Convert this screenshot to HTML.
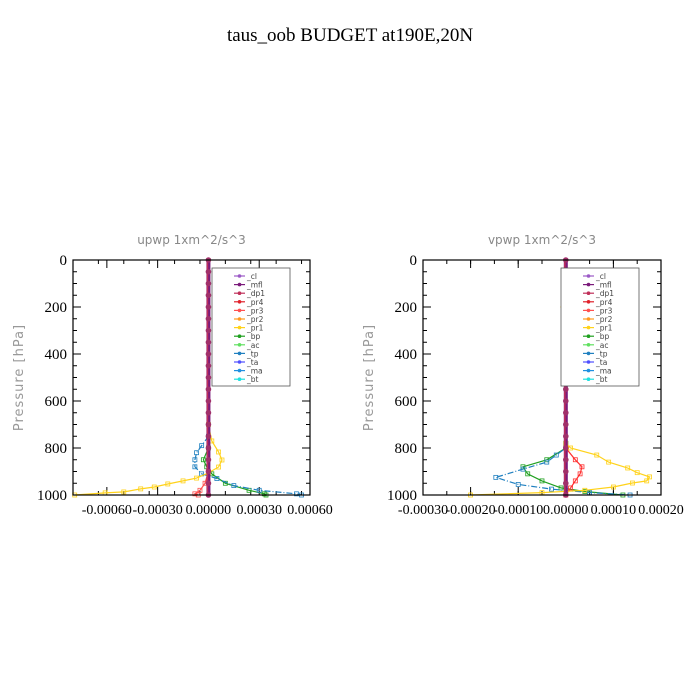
<!DOCTYPE html>
<html><head><meta charset="utf-8"><style>
body{margin:0;background:#fff;}
svg{display:block;}
</style></head><body>
<svg id="chart" width="700" height="700" xmlns="http://www.w3.org/2000/svg">
<text x="350" y="41" text-anchor="middle" font-family="Liberation Serif, serif" font-size="19" fill="#000">taus_oob  BUDGET at190E,20N</text>
</svg>
<script>
// ---- data ----
const pressureTicks = [0,200,400,600,800,1000];
const xTicks1 = [-0.0006,-0.0003,0,0.0003,0.0006];
const xTickLabels1 = ["-0.00060","-0.00030","0.00000","0.00030","0.00060"];
const xTicks2 = [-0.0003,-0.0002,-0.0001,0,0.0001,0.0002];
const xTickLabels2 = ["-0.00030","-0.00020","-0.00010","0.00000","0.00010","0.00020"];
const legendNames = ["_cl","_mfl","_dp1","_pr4","_pr3","_pr2","_pr1","_bp","_ac","_tp","_ta","_ma","_bt"];
const legendColors = ["#9b59c6","#7b1a7b","#c0305a","#e0202a","#ff5050","#ff9a20","#ffd21a","#20a020","#60e060","#2080c0","#5050ff","#2090e0","#20e0e0"];
const centerP = [0,50,100,150,200,250,300,350,400,450,500,550,600,650,700,750,800,850,900,950,1000];
// panel 1 (upwp)
const p1_pr1_p = [0,700,770,817,851,881,906,928,940,953,966,974,987,991,1000];
const p1_pr1_v = [0,0,0.00002,0.00006,0.00008,0.00006,0,-0.00007,-0.00015,-0.00024,-0.00032,-0.0004,-0.0005,-0.00061,-0.00079];
const p1_tp_p = [0,700,750,790,820,850,880,910,930,960,980,995,1000];
const p1_tp_v = [0,0,0,-0.00004,-0.00007,-0.00008,-0.00008,-0.00004,0.00005,0.00015,0.0003,0.00052,0.00055];
const p1_bp_p = [0,800,850,880,910,950,980,995,1000];
const p1_bp_v = [0,0,-0.00003,-0.00001,0.00002,0.0001,0.00024,0.00033,0.00034];
const p1_pr3_p = [0,900,950,980,995,1000];
const p1_pr3_v = [0,0,-0.00002,-0.00005,-0.00008,-0.00006];
// panel 2 (vpwp)
const p2_pr1_p = [0,180,200,220,780,800,830,860,885,905,923,940,949,966,980,990,1000];
const p2_pr1_v = [0,0,-0.00001,0,0,0.00001,0.000065,0.00009,0.00013,0.00015,0.000176,0.00017,0.00014,0.0001,0.00004,-0.00005,-0.0002];
const p2_tp_p = [0,170,200,230,780,800,830,860,890,925,955,975,990,1000];
const p2_tp_v = [0,0.00001,0.00002,0,0,0,-0.00002,-0.00004,-0.00009,-0.000147,-0.0001,-0.00003,0.00005,0.000135];
const p2_bp_p = [0,780,800,850,880,910,940,970,985,1000];
const p2_bp_v = [0,0,0,-0.00004,-0.00009,-0.00008,-0.00005,-0.00001,0.00004,0.00012];
const p2_pr3_p = [0,800,850,880,910,940,970,1000];
const p2_pr3_v = [0,0,0.00002,0.000034,0.00003,0.00002,0.00001,0];

const svg = document.getElementById('chart');
const NS = 'http://www.w3.org/2000/svg';
function mk(tag, attrs, parent){const e=document.createElementNS(NS,tag);for(const k in attrs)e.setAttribute(k,attrs[k]);(parent||svg).appendChild(e);return e;}

function panel(opt){
  const g = mk('g',{});
  
  
  const L=opt.left,R=opt.right,T=260,B=495;
  const xs=v=>L+(v-opt.xmin)/(opt.xmax-opt.xmin)*(R-L);
  const ys=p=>T+p/1000*(B-T);
  const t = mk('text',{x:(L+R)/2,y:244,'text-anchor':'middle','font-family':'DejaVu Sans, sans-serif','font-size':12,fill:'#888','xml:space':'preserve'},g);
  t.textContent = opt.title;
  
  
  const yl = mk('text',{x:0,y:0,transform:`translate(${L-50},${(T+B)/2}) rotate(-90)`,'text-anchor':'middle','font-family':'DejaVu Sans, sans-serif','font-size':13,fill:'#999','letter-spacing':'1'},g);
  yl.textContent='Pressure [hPa]';
  
  
  // minor ticks
  for(let p=0;p<=1000;p+=50){const y=ys(p);const len=(p%200===0)?8:4;
    mk('line',{x1:L,x2:L+len,y1:y,y2:y,stroke:'#000','stroke-width':1},g);
    mk('line',{x1:R,x2:R-len,y1:y,y2:y,stroke:'#000','stroke-width':1},g);}
  pressureTicks.forEach(p=>{const tx=mk('text',{x:L-6,y:ys(p)+5,'text-anchor':'end','font-family':'Liberation Serif, serif','font-size':15,fill:'#000'},g);tx.textContent=p;
    
    });
  opt.ticks.forEach((v,i)=>{const x=xs(v);
    mk('line',{x1:x,x2:x,y1:B,y2:B-8,stroke:'#000'},g);mk('line',{x1:x,x2:x,y1:T,y2:T+8,stroke:'#000'},g);
    const tx=mk('text',{x:x,y:B+19,'text-anchor':'middle','font-family':'Liberation Serif, serif','font-size':14,fill:'#000'},g);tx.textContent=opt.labels[i];
    
    });
  // minor x ticks
  const step=(opt.ticks[1]-opt.ticks[0])/2;
  for(let v=opt.xmin;v<=opt.xmax+1e-12;v+=step){const x=xs(v);mk('line',{x1:x,x2:x,y1:B,y2:B-4,stroke:'#000'},g);mk('line',{x1:x,x2:x,y1:T,y2:T+4,stroke:'#000'},g);}
  // series
  function series(ps,vs,color,dash,name){
    const pts=ps.map((p,i)=>xs(vs[i]).toFixed(1)+','+ys(p).toFixed(1)).join(' ');
    const pl=mk('polyline',{points:pts,fill:'none',stroke:color,'stroke-width':1.2,'stroke-dasharray':dash||'none'},g);
    
    
    ps.forEach((p,i)=>{if(p<700)return;const c=mk('rect',{x:xs(vs[i])-2,y:ys(p)-2,width:4,height:4,fill:'none',stroke:color,'stroke-width':0.8},g);});
  }
  opt.series.forEach(s=>series(s[0],s[1],s[2],s[3],s[4]));
  // central thick line
  const cl=mk('line',{x1:xs(0),x2:xs(0),y1:T,y2:B,stroke:'#7b1a7b','stroke-width':4},g);
  
  
  mk('line',{x1:xs(0)-1,x2:xs(0)-1,y1:T,y2:B,stroke:'#c0305a','stroke-width':1.5},g);
  centerP.forEach(p=>{const m=mk('circle',{cx:xs(0),cy:ys(p),r:2.8,fill:'#a0306a'},g);
    
    });
  // frame
  mk('rect',{x:L,y:T,width:R-L,height:B-T,fill:'none',stroke:'#000','stroke-width':1.2},g);
  // legend
  const lx=opt.legendX;
  const lg=mk('g',{},g);
  
  
  mk('rect',{x:lx,y:268,width:78,height:118,fill:'#fff',stroke:'#555','stroke-width':0.8},lg);
  legendNames.forEach((n,i)=>{const y=276+i*8.6;
    mk('line',{x1:lx+22,x2:lx+33,y1:y,y2:y,stroke:legendColors[i],'stroke-width':1.2},lg);
    mk('circle',{cx:lx+27.5,cy:y,r:1.8,fill:legendColors[i]},lg);
    const tx=mk('text',{x:lx+35,y:y+3,'font-family':'DejaVu Sans, sans-serif','font-size':7.5,fill:'#444'},lg);tx.textContent=n;
    
    });
}
panel({name:'upwp-panel',title:'upwp    1xm^2/s^3',left:73,right:310,xmin:-0.0008,xmax:0.0006,ticks:xTicks1,labels:xTickLabels1,legendX:212,
  series:[[p1_bp_p,p1_bp_v,'#20a020',''],[p1_tp_p,p1_tp_v,'#2080c0','6,2,1,2'],[p1_pr3_p,p1_pr3_v,'#ff5050',''],[p1_pr1_p,p1_pr1_v,'#ffd21a','']].map((s,i)=>s.concat(['series-'+['bp','tp','pr3','pr1'][i]]))});
panel({name:'vpwp-panel',title:'vpwp    1xm^2/s^3',left:423,right:661,xmin:-0.0003,xmax:0.0002,ticks:xTicks2,labels:xTickLabels2,legendX:561,
  series:[[p2_bp_p,p2_bp_v,'#20a020',''],[p2_tp_p,p2_tp_v,'#2080c0','6,2,1,2'],[p2_pr3_p,p2_pr3_v,'#ff3030',''],[p2_pr1_p,p2_pr1_v,'#ffd21a','']].map((s,i)=>s.concat(['series-'+['bp','tp','pr3','pr1'][i]]))});
</script>
</body></html>
